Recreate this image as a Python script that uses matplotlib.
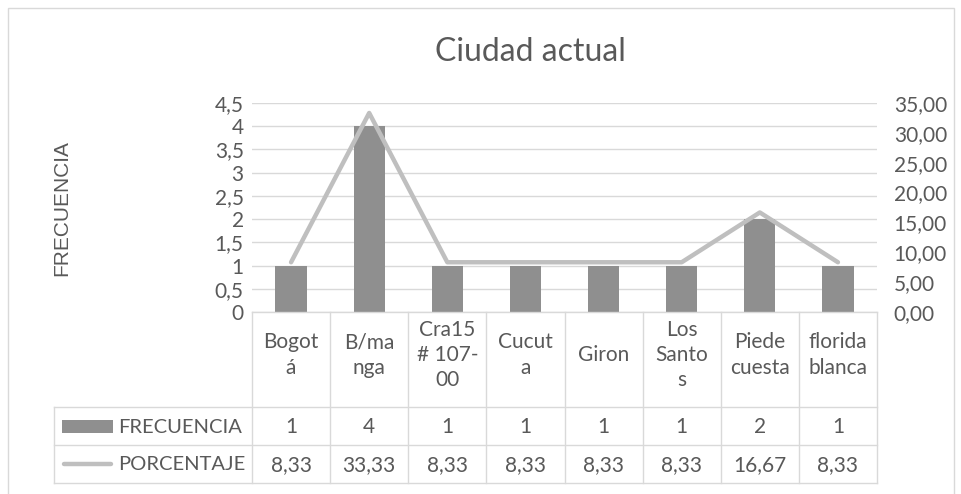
import numpy as np
import matplotlib
matplotlib.use("Agg")
import matplotlib.pyplot as plt
from matplotlib import transforms
from matplotlib.ticker import FuncFormatter

# data
ciudades = ["Bogot\ná", "B/ma\nnga", "Cra15\n# 107-\n00", "Cucut\na", "Giron",
            "Los\nSanto\ns", "Piede\ncuesta", "florida\nblanca"]
frecuencia = [1, 4, 1, 1, 1, 1, 2, 1]
porcentaje = [8.33, 33.33, 8.33, 8.33, 8.33, 8.33, 16.67, 8.33]

W, H = 961, 494
txt = "#595959"
grid_c = "#d9d9d9"
bar_c = "#8f8f8f"
line_c = "#bfbfbf"
plt.rcParams["font.family"] = ["Lato", "DejaVu Sans"]
fs = 15

def fx(px):
    return px / W

def fy(py):
    return 1 - py / H

fig = plt.figure(figsize=(W / 100, H / 100), dpi=100)

# chart border
fig.add_artist(plt.Rectangle((fx(8), fy(520)), fx(946), 512 / H, transform=fig.transFigure,
                             fill=False, edgecolor=grid_c, lw=1))

ax = fig.add_axes([fx(252), fy(312), fx(877) - fx(252), fy(103) - fy(312)])
x = np.arange(len(ciudades))
ax.bar(x, frecuencia, width=0.4, color=bar_c, zorder=2)
ax.set_xlim(-0.5, len(ciudades) - 0.5)
ax.set_ylim(0, 4.5)
ax.set_yticks(np.arange(0, 4.51, 0.5))
ax.yaxis.set_major_formatter(FuncFormatter(lambda v, p: ("%g" % v).replace(".", ",")))
ax.grid(axis="y", color=grid_c, lw=1)
ax.set_axisbelow(True)
ax.set_xticks([])
ax.tick_params(axis="y", length=0, pad=6, labelsize=fs, labelcolor=txt)
for s in ax.spines.values():
    s.set_visible(False)

ax2 = ax.twinx()
ax2.plot(x, porcentaje, color=line_c, lw=3.2, solid_capstyle="round", solid_joinstyle="round", zorder=3)
ax2.set_ylim(0, 35)
ax2.set_yticks(np.arange(0, 35.1, 5))
ax2.yaxis.set_major_formatter(FuncFormatter(lambda v, p: ("%.2f" % v).replace(".", ",")))
ax2.tick_params(axis="y", length=0, pad=12, labelsize=fs, labelcolor=txt)
for s in ax2.spines.values():
    s.set_visible(False)

fig.text(fx(530), fy(52), "Ciudad actual", fontsize=23, color=txt, ha="center", va="center")
fig.text(fx(62), fy(208), "FRECUENCIA", fontsize=15, color=txt, ha="center", va="center",
         rotation=90, family=["Liberation Sans", "DejaVu Sans"])

# data table below the axis
tr = transforms.blended_transform_factory(ax.transData, fig.transFigure)
n = len(ciudades)
for i in range(n + 1):
    fig.add_artist(plt.Line2D([i - 0.5, i - 0.5], [fy(312), fy(483)], transform=tr, color=grid_c, lw=1))
fig.add_artist(plt.Line2D([-0.5, n - 0.5], [fy(312), fy(312)], transform=tr, color=grid_c, lw=1))
for yy in [407, 445, 483]:
    fig.add_artist(plt.Line2D([fx(54), fx(877)], [fy(yy), fy(yy)], transform=fig.transFigure, color=grid_c, lw=1))
fig.add_artist(plt.Line2D([fx(54), fx(54)], [fy(407), fy(483)], transform=fig.transFigure, color=grid_c, lw=1))

for i in range(n):
    fig.text(i, fy(355), ciudades[i], transform=tr, ha="center", va="center", fontsize=fs,
             color=txt, linespacing=1.32)
    fig.text(i, fy(427), str(frecuencia[i]), transform=tr, ha="center", va="center", fontsize=fs, color=txt)
    fig.text(i, fy(465), ("%.2f" % porcentaje[i]).replace(".", ","), transform=tr, ha="center",
             va="center", fontsize=fs, color=txt)

# legend keys inside table
fig.add_artist(plt.Rectangle((fx(62), fy(433)), fx(113) - fx(62), 13 / H, transform=fig.transFigure,
                             color=bar_c, lw=0))
fig.add_artist(plt.Line2D([fx(64), fx(111)], [fy(464), fy(464)], transform=fig.transFigure,
                          color=line_c, lw=3.2, solid_capstyle="round"))
fig.text(fx(118), fy(427), "FRECUENCIA", fontsize=14.5, color=txt, ha="left", va="center")
fig.text(fx(118), fy(465), "PORCENTAJE", fontsize=14.5, color=txt, ha="left", va="center")

fig.savefig("out.png", dpi=100)
